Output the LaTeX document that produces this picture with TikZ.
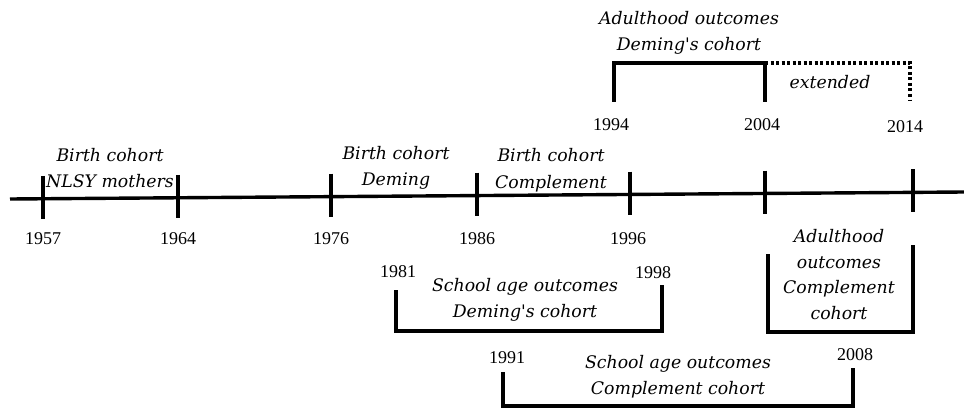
\documentclass[tikz,border=0pt]{standalone}
\usepackage{fontspec}
\setmainfont{Liberation Serif}
\newfontfamily\labfont{DejaVu Serif}
\begin{document}
\begin{tikzpicture}[x=1pt,y=-1pt,
  yearlbl/.style={font=\fontsize{18}{20}\selectfont, inner sep=0pt},
  itlbl/.style={font=\labfont\itshape\fontsize{17.3}{26.5}\selectfont, align=center, inner sep=0pt},
  thick line/.style={line width=3.4pt},
  bracket/.style={line width=3.4pt, line cap=rect}]
\useasboundingbox (0,0) rectangle (964,412);
% timeline
\coordinate (L) at (10,199);
\coordinate (R) at (964,192);
\draw[thick line] (L) -- (R);
% ticks
\foreach \n/\x/\yy in {a/43/198.8, b/178/197.8, c/331/196.6, d/477/195.6, e/630/194.5, f/765/193.5, g/913/192.4}{
  \coordinate (\n t) at (\x,\yy-23);
  \coordinate (\n b) at (\x,\yy+20);
  \draw[thick line] (\n t) -- (\n b);
}
% year labels under timeline
\node[yearlbl] (y1957) at (43,239) {1957};
\node[yearlbl] (y1964) at (178,239) {1964};
\node[yearlbl] (y1976) at (331,239) {1976};
\node[yearlbl] (y1986) at (477,239) {1986};
\node[yearlbl] (y1996) at (628,239) {1996};
% birth cohort labels
\node[itlbl] (bcN) at (110,168) {Birth cohort\\NLSY mothers};
\node[itlbl] (bcD) at (396,168) {Birth cohort\\Deming};
\node[itlbl] (bcC) at (551,170) {Birth cohort\\Complement};
% top adulthood Deming
\node[itlbl] (adD) at (689,33) {Adulthood outcomes\\Deming's cohort};
\coordinate (t1) at (614,100);
\coordinate (t2) at (614,63);
\coordinate (t3) at (765,63);
\coordinate (t4) at (765,100);
\coordinate (t5) at (910,63);
\coordinate (t6) at (910,100);
\draw[bracket] (t1) -- (t2) -- (t3) -- (t4);
\draw[line width=3.4pt, dash pattern=on 3pt off 2.5pt] (t3) -- (t5) -- (t6);
\node[itlbl] (ext) at (830,82) {extended};
\node[yearlbl] (y1994) at (611,125) {1994};
\node[yearlbl] (y2004) at (762,125) {2004};
\node[yearlbl] (y2014) at (905,127) {2014};
% bottom-right adulthood complement
\coordinate (c1) at (768,256);
\coordinate (c2) at (768,332);
\coordinate (c3) at (913,332);
\coordinate (c4) at (913,247);
\draw[bracket] (c1) -- (c2) -- (c3) -- (c4);
\node[itlbl, font=\labfont\itshape\fontsize{17.3}{25.5}\selectfont] (adC) at (839,274.5) {Adulthood\\outcomes\\Complement\\cohort};
% school age Deming
\coordinate (s1) at (396,292);
\coordinate (s2) at (396,331);
\coordinate (s3) at (662,331);
\coordinate (s4) at (662,287);
\draw[bracket] (s1) -- (s2) -- (s3) -- (s4);
\node[yearlbl] (y1981) at (398,272) {1981};
\node[yearlbl] (y1998) at (653,273) {1998};
\node[itlbl] (saD) at (525,300) {School age outcomes\\Deming's cohort};
% school age Complement
\coordinate (k1) at (503,374);
\coordinate (k2) at (503,406);
\coordinate (k3) at (853,406);
\coordinate (k4) at (853,370);
\draw[bracket] (k1) -- (k2) -- (k3) -- (k4);
\node[yearlbl] (y1991) at (507,358) {1991};
\node[yearlbl] (y2008) at (855,355) {2008};
\node[itlbl] (saC) at (678,376.5) {School age outcomes\\Complement cohort};
\end{tikzpicture}
\end{document}
